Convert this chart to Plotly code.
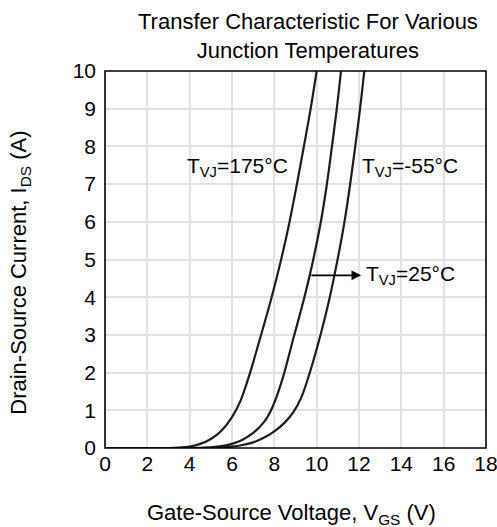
import plotly.graph_objects as go

# Gate-source voltage (V) and drain-source current (A)
vgs_175 = [0, 1, 2, 3.0, 3.5, 4.0, 4.5, 5.0, 5.5, 6.0, 6.4, 6.8, 7.35, 7.85, 8.3, 8.7, 9.05, 9.38, 9.7, 10.0]
ids_175 = [0, 0, 0, 0, 0.01, 0.04, 0.11, 0.24, 0.46, 0.82, 1.25, 1.9, 2.95, 3.95, 4.95, 5.95, 6.95, 7.95, 8.95, 10]

vgs_25 = [0, 2, 4, 4.5, 5.0, 5.5, 6.0, 6.5, 7.0, 7.5, 7.8, 8.1, 8.42, 8.92, 9.4, 9.82, 10.18, 10.47, 10.71, 10.94, 11.15]
ids_25 = [0, 0, 0, 0.005, 0.02, 0.05, 0.11, 0.22, 0.4, 0.68, 0.95, 1.35, 1.9, 2.95, 3.95, 4.95, 5.95, 6.95, 7.95, 8.95, 10]

vgs_m55 = [0, 2, 4, 5.0, 5.5, 6.0, 6.5, 7.0, 7.5, 8.0, 8.5, 8.9, 9.28, 9.62, 10.16, 10.6, 10.97, 11.3, 11.57, 11.81, 12.04, 12.25]
ids_m55 = [0, 0, 0, 0.005, 0.015, 0.035, 0.08, 0.15, 0.27, 0.44, 0.68, 0.95, 1.35, 1.9, 2.95, 3.95, 4.95, 5.95, 6.95, 7.95, 8.95, 10]

x_ticks = [0, 2, 4, 6, 8, 10, 12, 14, 16, 18]
y_ticks = [0, 1, 2, 3, 4, 5, 6, 7, 8, 9, 10]

FONT = "Liberation Sans, Arial, sans-serif"
LINE = "#1c1c1c"

fig = go.Figure()
for xs, ys, name in [(vgs_175, ids_175, "175"), (vgs_25, ids_25, "25"), (vgs_m55, ids_m55, "-55")]:
    fig.add_trace(go.Scatter(x=xs, y=ys, mode="lines", name=name,
                             line=dict(color=LINE, width=2.2, shape="spline", smoothing=1.0),
                             showlegend=False, hoverinfo="skip"))

ann_font = dict(family=FONT, size=21, color="black")
fig.add_annotation(x=3.78, y=7.45, xref="x", yref="y", text="T<sub>VJ</sub>=175°C",
                   showarrow=False, xanchor="left", yanchor="middle", font=ann_font)
fig.add_annotation(x=12.05, y=7.45, xref="x", yref="y", text="T<sub>VJ</sub>=-55°C",
                   showarrow=False, xanchor="left", yanchor="middle", font=ann_font)
fig.add_annotation(x=12.25, y=4.58, xref="x", yref="y", text="T<sub>VJ</sub>=25°C",
                   showarrow=False, xanchor="left", yanchor="middle", font=ann_font)
fig.add_annotation(x=12.1, y=4.58, ax=9.68, ay=4.58, xref="x", yref="y", axref="x", ayref="y",
                   text="", showarrow=True, arrowhead=2, arrowsize=1.2, arrowwidth=1.6,
                   arrowcolor="black")

# Title and axis titles
title_font = dict(family=FONT, size=22, color="black")
fig.add_annotation(text="Transfer Characteristic For Various<br>Junction Temperatures",
                   xref="paper", yref="paper", x=0.533, y=1, xanchor="center", yanchor="bottom",
                   yshift=6, showarrow=False, font=title_font)
fig.add_annotation(text="Gate-Source Voltage, V<sub>GS</sub> (V)",
                   xref="paper", yref="paper", x=0.49, y=-0.176, xanchor="center", yanchor="middle",
                   showarrow=False, font=title_font)
fig.add_annotation(text="Drain-Source Current, I<sub>DS</sub> (A)", textangle=-90,
                   xref="paper", yref="paper", x=-0.223, y=0.465, xanchor="center", yanchor="middle",
                   showarrow=False, font=title_font)

# Plot frame
fig.add_shape(type="rect", xref="paper", yref="paper", x0=0, y0=0, x1=1, y1=1,
              line=dict(color="black", width=1.6), layer="above")

fig.update_layout(
    width=497, height=527,
    margin=dict(l=105, r=11, t=71, b=79, autoexpand=False),
    paper_bgcolor="white", plot_bgcolor="white",
    font=dict(family=FONT, size=21, color="black"),
)
fig.update_xaxes(range=[0, 18], tickvals=x_ticks, ticktext=[str(v) for v in x_ticks],
                 showgrid=True, gridcolor="#e2e2e2", gridwidth=2,
                 showline=False, ticks="", zeroline=False, ticklabelstandoff=1,
                 automargin=False, ticklabeloverflow="allow",
                 tickfont=dict(family=FONT, size=21))
fig.update_yaxes(range=[0, 10], tickvals=y_ticks, ticktext=[str(v) for v in y_ticks],
                 showgrid=True, gridcolor="#e2e2e2", gridwidth=2,
                 showline=False, ticks="", zeroline=False, ticklabelstandoff=8,
                 automargin=False, ticklabeloverflow="allow",
                 tickfont=dict(family=FONT, size=21))

fig.write_html("out.html", config={"displayModeBar": False},
               post_script="document.body.style.margin='0';document.body.style.overflow='hidden';")
